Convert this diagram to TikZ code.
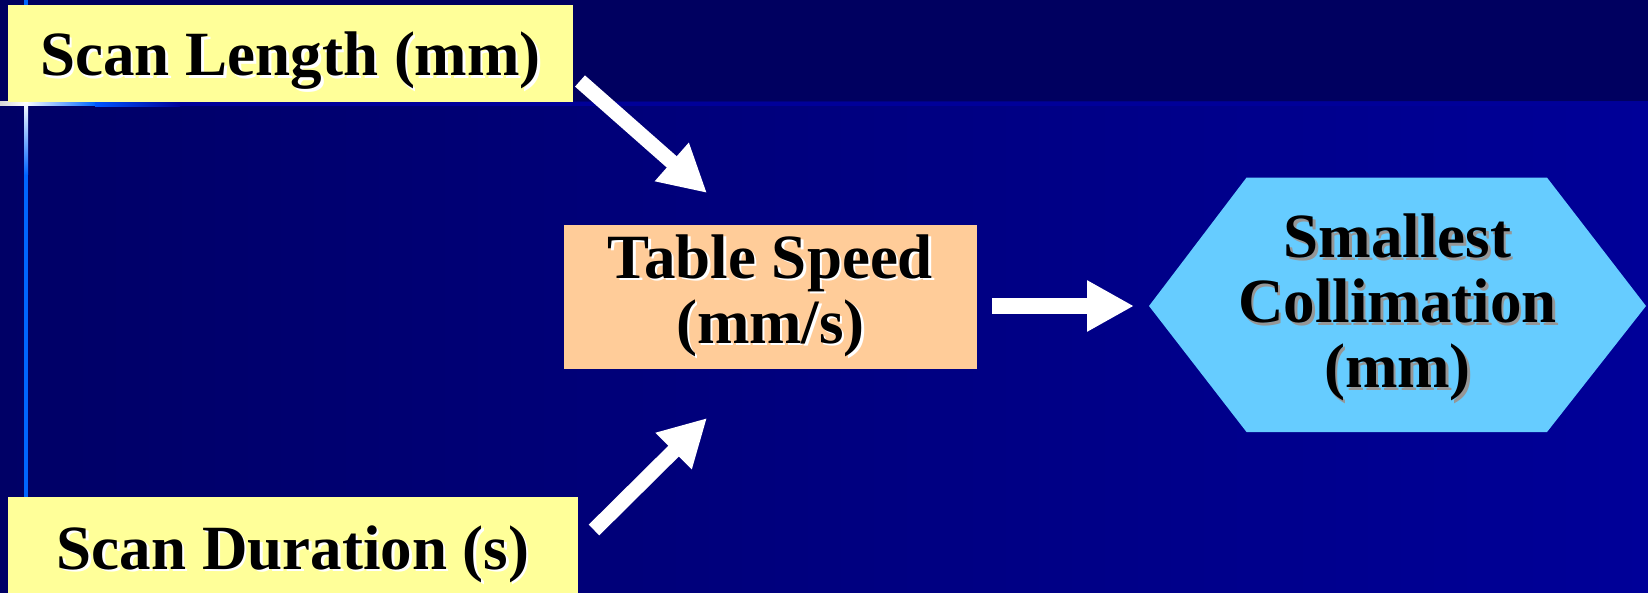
\documentclass[tikz,border=0pt]{standalone}
\usepackage{fontspec}
\setmainfont{Liberation Serif}
\usetikzlibrary{arrows.meta}
\definecolor{bandnavy}{RGB}{0,0,96}
\definecolor{navyL}{RGB}{0,0,102}
\definecolor{navyR}{RGB}{0,0,152}
\definecolor{lineblue}{RGB}{0,0,153}
\definecolor{brightblue}{RGB}{0,85,255}
\definecolor{vblue}{RGB}{0,102,255}
\definecolor{paleedge}{RGB}{215,215,215}
\definecolor{boxyellow}{RGB}{255,255,153}
\definecolor{boxorange}{RGB}{255,204,153}
\definecolor{hexblue}{RGB}{102,204,255}
\definecolor{shadowgray}{RGB}{150,150,150}
\newcommand\shtext[2]{\leavevmode\rlap{\hspace*{2.5pt}\raisebox{-2.5pt}{\textcolor{#1}{#2}}}#2}
\tikzset{
  lbl/.style={font=\bfseries\fontsize{63}{65}\selectfont, text=black, inner sep=0pt},
  ybox/.style={lbl, fill=boxyellow, text height=52pt, text depth=8pt},
  obox/.style={lbl, fill=boxorange, align=center},
  hextext/.style={lbl, align=center},
  blockarrow/.style={draw=white, line width=15pt, -{Triangle[length=47pt, width=48pt]}}
}
\begin{document}
\begin{tikzpicture}[x=1pt,y=-1pt]
\useasboundingbox (0,0) rectangle (1648,593);
% background
\fill[bandnavy] (0,0) rectangle (1648,102);
\shade[left color=navyL, right color=navyR] (0,102) rectangle (1648,593);
% horizontal rule
\fill[lineblue] (0,102) rectangle (1648,106);
\shade[left color=paleedge, right color=white] (0,102) rectangle (25,106);
\shade[left color=white, right color=vblue] (25,102) rectangle (95,106);
\shade[left color=brightblue, right color=lineblue] (95,102) rectangle (180,106.7);
% vertical rule
\fill[vblue] (24,0) rectangle (28,593);
\shade[top color=white, bottom color=vblue] (24,102) rectangle (28,175);

% boxes
\node[ybox, minimum width=564.6pt, minimum height=96.7pt] (sl) at (290.7,53.6)
  {\shtext{white}{Scan Length (mm)}};
\node[ybox, minimum width=569.6pt, minimum height=100pt] (sd) at (293.2,547)
  {\shtext{white}{Scan Duration (s)}};
\node[obox, minimum width=413pt, minimum height=144pt] (ts) at (770.5,297)
  {\rule{0pt}{0pt}\raisebox{-3pt}{\shtext{white}{Table Speed}}\\\raisebox{-3pt}{\shtext{white}{(mm/s)}}};
\fill[hexblue] (1149,306) -- (1246.5,177.6) -- (1547,177.6) -- (1646,306)
  -- (1547,432) -- (1246.5,432) -- cycle;
\node[hextext] (sc) at (1397.5,309)
  {\shtext{shadowgray}{Smallest}\\\shtext{shadowgray}{Collimation}\\\shtext{shadowgray}{(mm)}};

% arrows
\coordinate (a1s) at (580,81);
\coordinate (a1e) at (707,193);
\coordinate (a2s) at (594,530);
\coordinate (a2e) at (707,418);
\coordinate (a3s) at (992,306);
\coordinate (a3e) at (1134,306);
\draw[blockarrow] (a1s) -- (a1e);
\draw[blockarrow] (a2s) -- (a2e);
\draw[blockarrow, line width=16pt] (a3s) -- (a3e);
\end{tikzpicture}
\end{document}
